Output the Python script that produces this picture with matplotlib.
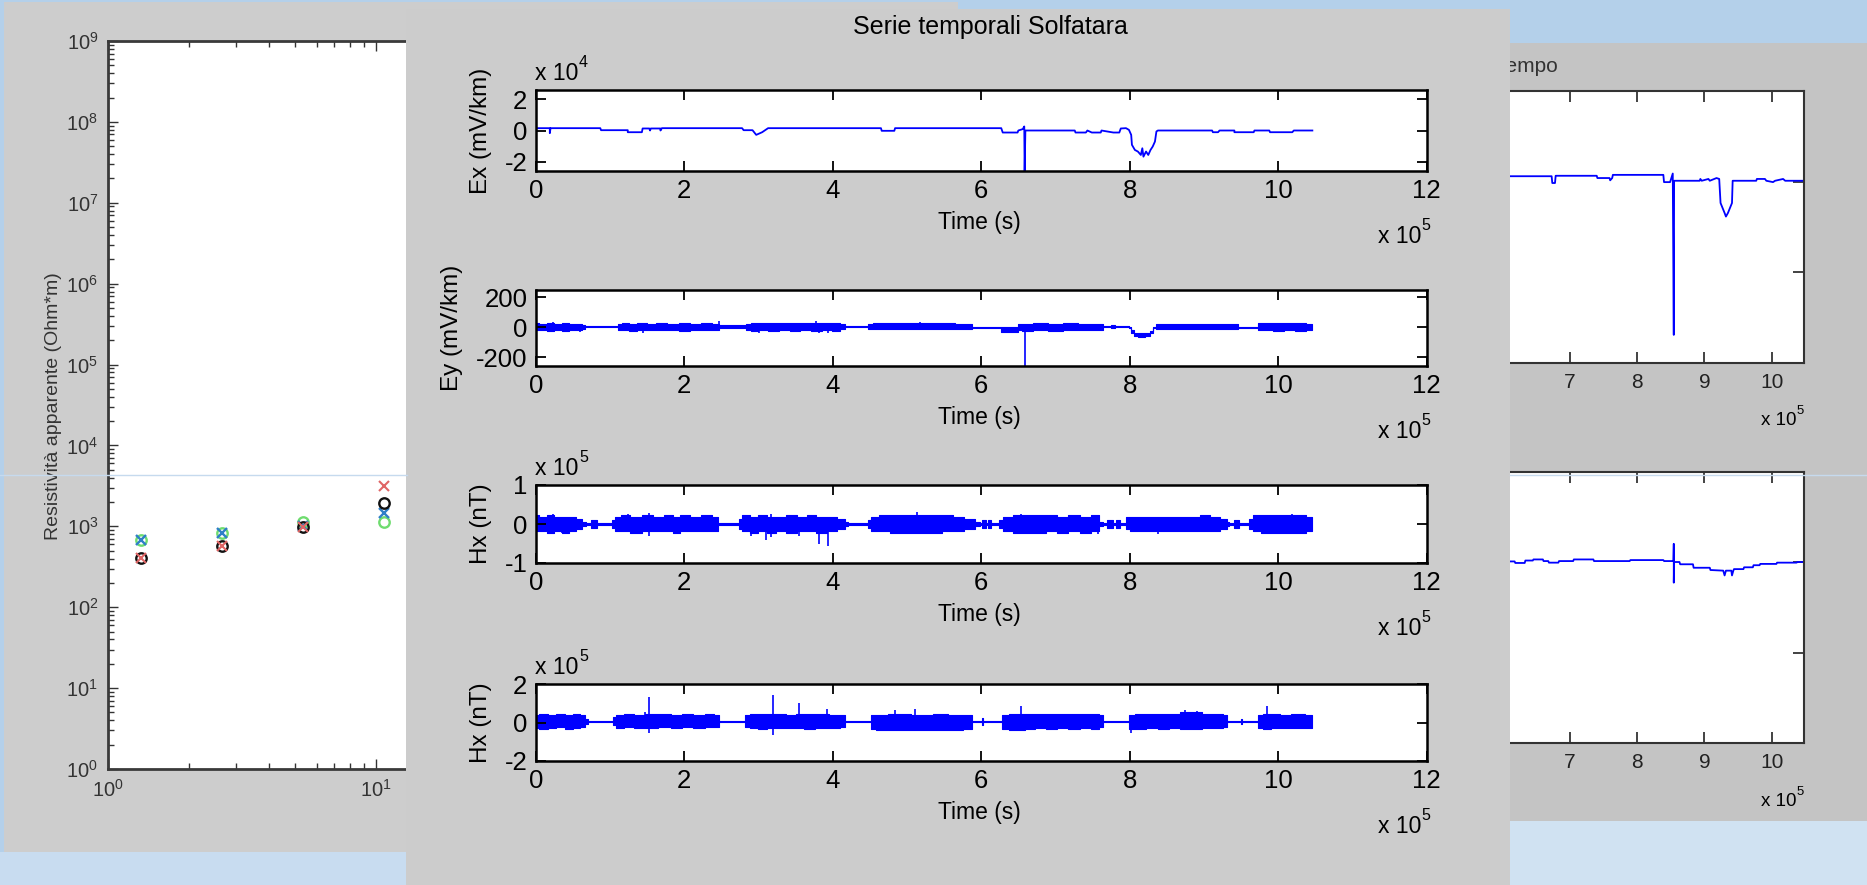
import matplotlib.pyplot as plt
from matplotlib.patches import Rectangle
from matplotlib.lines import Line2D

plt.rcParams['font.family'] = ['Liberation Sans', 'DejaVu Sans']
plt.rcParams['axes.unicode_minus'] = False

W, H = 1867, 885

# --- resistivita' apparente (Ohm*m) ai quattro periodi
periodi = [1.33, 2.67, 5.33, 10.67]
rho_xy_o = [406, 571, 980, 1940]     # cerchi neri
rho_xy_x = [406, 571, 980, 3150]     # croci rosse
rho_yx_o = [677, 826, 1130, 1130]    # cerchi verdi
rho_yx_x = [677, 826, 1000, 1460]    # croci blu

# --- serie temporali Solfatara (tempo in 1e5 s)
# Ex in 1e4 mV/km
ex_t = [0, 0.19, 0.19, 0.20, 0.87, 0.88, 1.24, 1.24, 1.43, 1.44, 1.53, 1.54, 1.55, 1.68, 1.68, 1.70,
        2.78, 2.80, 2.92, 2.97, 3.05, 3.13, 4.65, 4.66, 4.83, 4.84, 6.27, 6.29, 6.49, 6.50, 6.56,
        6.58, 6.585, 6.595, 7.26, 7.27, 7.41, 7.43, 7.49, 7.61, 7.62, 7.78, 7.86, 7.88, 7.95, 7.99,
        8.02, 8.03, 8.07, 8.11, 8.15, 8.17, 8.185, 8.22, 8.25, 8.28, 8.31, 8.34, 8.36, 8.38, 9.11,
        9.12, 9.19, 9.21, 9.41, 9.41, 9.67, 9.68, 9.88, 9.89, 10.19, 10.21, 10.46]
ex_v = [0.15, 0.15, -0.17, 0.15, 0.15, 0.02, 0.02, -0.11, -0.11, 0.13, 0.13, 0.0, 0.13, 0.13, 0.0, 0.15,
        0.15, 0.02, 0.02, -0.28, -0.11, 0.15, 0.15, -0.02, -0.02, 0.15, 0.15, -0.13, -0.13, 0.0, 0.09,
        0.26, -2.60, 0.0, 0.0, -0.13, -0.13, 0.0, -0.13, -0.13, 0.0, -0.13, -0.13, 0.13, 0.15, 0.04,
        -0.28, -0.92, -1.25, -1.35, -1.57, -1.14, -1.68, -1.35, -1.57, -1.25, -1.03, -0.71, -0.06, 0.0, 0.0,
        -0.11, -0.11, 0.0, 0.0, -0.11, -0.11, 0.0, 0.0, -0.11, -0.11, 0.0, 0.0]

# Ey in mV/km: (tempo, bordo superiore, bordo inferiore)
ey_band = [
    (0.00, 27, -20), (0.10, 24, -18), (0.20, 31, -24), (0.30, 24, -20), (0.40, 27, -22),
    (0.50, 24, -18), (0.60, 22, -20), (0.66, 16, -13), (0.67, 9, 4), (1.11, 9, 4),
    (1.12, 24, -20), (1.20, 27, -18), (1.30, 24, -24), (1.44, 27, -20), (1.55, 24, -18),
    (1.70, 27, -20), (1.85, 24, -18), (2.00, 27, -24), (2.15, 24, -18), (2.30, 27, -20),
    (2.46, 24, -18), (2.48, 16, -4), (2.60, 13, -7), (2.72, 16, -4), (2.83, 13, -7),
    (2.84, 24, -18), (2.95, 27, -24), (3.05, 27, -20), (3.20, 31, -24), (3.35, 27, -20),
    (3.50, 31, -24), (3.62, 27, -20), (3.80, 31, -24), (3.92, 27, -20), (4.05, 31, -24),
    (4.16, 24, -13), (4.18, 9, 4), (4.47, 9, 4), (4.48, 24, -13), (4.60, 27, -11),
    (4.80, 31, -13), (5.00, 31, -13), (5.18, 31, -11), (5.35, 31, -13), (5.55, 27, -11),
    (5.75, 24, -13), (5.86, 20, -11), (5.88, 4, -2), (6.26, 4, -2), (6.28, 4, -29),
    (6.48, 4, -29), (6.50, 24, -20), (6.60, 20, -24), (6.80, 27, -20), (7.00, 24, -24),
    (7.20, 27, -20), (7.40, 24, -20), (7.62, 20, -18), (7.65, 9, 4), (7.74, 9, 4),
    (7.75, 16, -7), (7.80, 16, -7), (7.81, 9, 4), (7.98, 9, 4), (8.00, 4, -7),
    (8.03, -20, -35), (8.08, -35, -55), (8.15, -38, -62), (8.25, -35, -58), (8.30, -24, -40),
    (8.34, 4, -7), (8.36, 24, -11), (8.50, 22, -13), (8.70, 24, -11), (8.90, 22, -13),
    (9.10, 24, -11), (9.30, 22, -13), (9.45, 20, -11), (9.47, 2, -7), (9.72, 2, -7),
    (9.73, 27, -18), (9.85, 31, -20), (10.00, 27, -24), (10.15, 31, -20), (10.30, 27, -24),
    (10.46, 24, -18)]
ey_spikes = [(0.23, 38), (0.39, -29), (0.60, -29), (1.44, -40), (2.47, 42), (3.01, -40),
             (3.78, 42), (3.82, -40), (3.94, -40), (5.17, 38), (6.585, -258)]

# Hx (prima stazione) in 1e5 nT
hx1_band = [
    (0.00, 0.22, -0.17), (0.10, 0.17, -0.19), (0.20, 0.22, -0.22), (0.30, 0.19, -0.17),
    (0.40, 0.19, -0.22), (0.50, 0.17, -0.17), (0.58, 0.13, -0.13), (0.66, 0.04, -0.04),
    (0.70, 0.02, -0.02), (0.80, 0.09, -0.09), (0.86, 0.02, -0.02), (1.02, 0.02, -0.02),
    (1.04, 0.09, -0.09), (1.10, 0.17, -0.17), (1.20, 0.22, -0.19), (1.35, 0.19, -0.22),
    (1.50, 0.22, -0.17), (1.65, 0.19, -0.17), (1.80, 0.22, -0.19), (1.90, 0.19, -0.22),
    (2.00, 0.22, -0.17), (2.15, 0.19, -0.19), (2.30, 0.22, -0.17), (2.45, 0.19, -0.17),
    (2.47, 0.02, -0.02), (2.73, 0.02, -0.02), (2.74, 0.13, -0.13), (2.82, 0.22, -0.19),
    (2.95, 0.19, -0.22), (3.05, 0.22, -0.19), (3.17, 0.19, -0.22), (3.30, 0.19, -0.19),
    (3.45, 0.22, -0.22), (3.60, 0.19, -0.19), (3.70, 0.22, -0.19), (3.85, 0.19, -0.22),
    (4.00, 0.17, -0.19), (4.12, 0.13, -0.13), (4.20, 0.04, -0.04), (4.22, 0.02, -0.02),
    (4.47, 0.02, -0.02), (4.48, 0.09, -0.09), (4.55, 0.17, -0.17), (4.70, 0.22, -0.19),
    (4.85, 0.22, -0.22), (5.00, 0.23, -0.22), (5.13, 0.24, -0.22), (5.25, 0.24, -0.24),
    (5.40, 0.22, -0.22), (5.55, 0.22, -0.19), (5.70, 0.19, -0.19), (5.85, 0.13, -0.13),
    (5.97, 0.04, -0.04), (5.99, 0.02, -0.02), (6.04, 0.09, -0.09), (6.08, 0.02, -0.02),
    (6.11, 0.09, -0.09), (6.15, 0.02, -0.02), (6.24, 0.02, -0.02), (6.25, 0.09, -0.09),
    (6.35, 0.19, -0.19), (6.50, 0.22, -0.24), (6.65, 0.22, -0.22), (6.80, 0.24, -0.22),
    (6.95, 0.22, -0.19), (7.10, 0.19, -0.22), (7.25, 0.22, -0.19), (7.40, 0.19, -0.22),
    (7.55, 0.22, -0.19), (7.63, 0.04, -0.04), (7.65, 0.02, -0.02), (7.75, 0.09, -0.09),
    (7.79, 0.02, -0.02), (7.85, 0.09, -0.09), (7.89, 0.02, -0.02), (7.94, 0.02, -0.02),
    (7.95, 0.17, -0.13), (8.05, 0.17, -0.17), (8.20, 0.19, -0.17), (8.35, 0.17, -0.19),
    (8.50, 0.17, -0.17), (8.70, 0.19, -0.17), (8.90, 0.17, -0.17), (9.00, 0.22, -0.19),
    (9.15, 0.17, -0.17), (9.28, 0.13, -0.13), (9.33, 0.04, -0.04), (9.35, 0.02, -0.02),
    (9.45, 0.09, -0.09), (9.49, 0.02, -0.02), (9.60, 0.02, -0.02), (9.61, 0.13, -0.13),
    (9.70, 0.22, -0.19), (9.85, 0.24, -0.22), (10.00, 0.22, -0.22), (10.15, 0.24, -0.22),
    (10.30, 0.22, -0.22), (10.46, 0.19, -0.19)]
hx1_spikes = [(0.23, 0.26), (0.35, -0.22), (1.24, 0.26), (1.53, 0.28), (1.53, -0.30),
              (2.90, -0.30), (3.10, -0.41), (3.17, 0.26), (3.17, -0.34), (3.54, -0.30),
              (3.82, -0.50), (3.94, -0.56), (5.14, 0.30), (6.53, 0.26), (7.57, -0.26),
              (8.38, -0.26), (10.19, 0.26)]

# Hx (seconda stazione) in 1e5 nT
hx2_band = [
    (0.00, 0.37, -0.28), (0.10, 0.42, -0.33), (0.22, 0.37, -0.28), (0.33, 0.42, -0.25),
    (0.45, 0.40, -0.33), (0.55, 0.42, -0.28), (0.63, 0.37, -0.25), (0.69, 0.20, -0.10),
    (0.71, 0.10, 0.04), (1.03, 0.10, 0.04), (1.04, 0.30, -0.15), (1.12, 0.40, -0.28),
    (1.25, 0.42, -0.25), (1.40, 0.37, -0.28), (1.55, 0.42, -0.28), (1.75, 0.46, -0.25),
    (1.90, 0.40, -0.28), (2.05, 0.42, -0.25), (2.20, 0.40, -0.28), (2.35, 0.46, -0.25),
    (2.46, 0.37, -0.25), (2.48, 0.10, 0.04), (2.81, 0.10, 0.04), (2.82, 0.37, -0.25),
    (2.95, 0.42, -0.28), (3.05, 0.46, -0.33), (3.18, 0.42, -0.30), (3.30, 0.42, -0.28),
    (3.45, 0.40, -0.30), (3.55, 0.42, -0.28), (3.68, 0.42, -0.33), (3.85, 0.46, -0.28),
    (4.05, 0.40, -0.28), (4.16, 0.37, -0.25), (4.18, 0.10, 0.04), (4.51, 0.10, 0.04),
    (4.52, 0.37, -0.33), (4.65, 0.40, -0.37), (4.84, 0.42, -0.37), (5.00, 0.42, -0.37),
    (5.11, 0.40, -0.37), (5.25, 0.40, -0.37), (5.45, 0.42, -0.37), (5.65, 0.40, -0.37),
    (5.86, 0.37, -0.33), (5.88, 0.10, 0.04), (6.00, 0.10, 0.04), (6.02, 0.25, -0.15),
    (6.04, 0.10, 0.04), (6.28, 0.10, 0.04), (6.29, 0.40, -0.33), (6.45, 0.46, -0.37),
    (6.54, 0.42, -0.37), (6.65, 0.42, -0.33), (6.80, 0.46, -0.30), (6.95, 0.42, -0.33),
    (7.10, 0.46, -0.30), (7.25, 0.42, -0.33), (7.40, 0.46, -0.30), (7.55, 0.42, -0.33),
    (7.63, 0.37, -0.25), (7.65, 0.10, 0.04), (7.98, 0.10, 0.04), (7.99, 0.37, -0.33),
    (8.15, 0.42, -0.33), (8.30, 0.46, -0.30), (8.45, 0.46, -0.33), (8.60, 0.46, -0.30),
    (8.75, 0.54, -0.33), (8.90, 0.54, -0.33), (9.05, 0.46, -0.30), (9.20, 0.42, -0.28),
    (9.30, 0.37, -0.25), (9.32, 0.10, 0.04), (9.49, 0.10, 0.04), (9.50, 0.20, -0.10),
    (9.52, 0.10, 0.04), (9.72, 0.10, 0.04), (9.73, 0.37, -0.28), (9.85, 0.42, -0.33),
    (9.95, 0.42, -0.30), (10.10, 0.40, -0.28), (10.25, 0.42, -0.30), (10.46, 0.40, -0.28)]
hx2_spikes = [(1.47, 0.54), (1.53, 1.33), (1.53, -0.54), (3.19, 1.42), (3.19, -0.63),
              (3.55, 1.02), (3.92, 0.72), (4.84, 0.63), (5.11, 0.72), (6.45, -0.42),
              (6.54, 0.84), (8.02, -0.56), (8.75, 0.63), (8.90, 0.60), (9.85, 0.84)]

# --- finestra "nel tempo" (seconda stazione), tempo in 1e5 s
r1_t = [6.0, 6.73, 6.74, 6.78, 6.79, 7.40, 7.41, 7.59, 7.60, 7.63, 7.64, 8.39, 8.40, 8.49, 8.53,
        8.545, 8.55, 8.93, 8.94, 8.96, 9.06, 9.08, 9.18, 9.22, 9.24, 9.27, 9.30, 9.32, 9.35, 9.38,
        9.41, 9.42, 9.77, 9.78, 9.90, 9.92, 10.02, 10.05, 10.17, 10.20, 10.48]
r1_v = [0.12, 0.12, -0.03, -0.03, 0.13, 0.13, 0.08, 0.08, 0.03, 0.08, 0.15, 0.15, -0.01, -0.01, 0.18,
        -3.38, 0.02, 0.02, 0.06, 0.02, 0.06, 0.02, 0.08, 0.06, -0.47, -0.58, -0.69, -0.77, -0.69, -0.58,
        -0.47, 0.02, 0.02, 0.06, 0.06, 0.02, -0.01, 0.02, 0.06, 0.02, 0.02]
r2_t = [6.0, 6.18, 6.19, 6.33, 6.34, 6.45, 6.46, 6.60, 6.61, 6.68, 6.69, 6.83, 6.84, 7.05, 7.06,
        7.35, 7.36, 7.89, 7.90, 8.39, 8.40, 8.54, 8.545, 8.545, 8.55, 8.63, 8.64, 8.83, 8.84, 9.08,
        9.09, 9.28, 9.30, 9.32, 9.40, 9.41, 9.43, 9.44, 9.58, 9.59, 9.72, 9.73, 9.82, 9.83, 10.07,
        10.08, 10.37, 10.38, 10.48]
r2_v = [2, 2, -1.4, -1.4, 4, 4, 6.4, 6.4, 2.8, 2.8, -0.7, -0.7, 2.8, 2.8, 6.4,
        6.4, 2.8, 2.8, 5, 5, 2.8, 2.8, 41, -45, 0.7, 0.7, -4.3, -4.3, -12, -12,
        -17, -18.4, -29, -18.4, -18.4, -29, -18.4, -15, -15, -11, -11, -6.4, -6.4, -3.5, -3.5,
        -0.7, -0.7, 0.7, 0.7]
r_ticks = list(range(0, 11))
r_ticklabels = ['', '', '', '', '', '', '', '7', '8', '9', '10']   # 0-6 restano sotto la finestra centrale

BLUE = '#0000ff'

fig = plt.figure(figsize=(W / 100, H / 100), dpi=100)
fig.patch.set_facecolor('#b4d0ea')


def fpos(x0, y0, x1, y1):
    return [x0 / W, 1 - y1 / H, (x1 - x0) / W, (y1 - y0) / H]


def rect(x0, y0, x1, y1, color, z):
    fig.add_artist(Rectangle((x0 / W, 1 - y1 / H), (x1 - x0) / W, (y1 - y0) / H,
                             transform=fig.transFigure, facecolor=color,
                             edgecolor='none', zorder=z))


def ftext(x, y, s, **kw):
    fig.text(x / W, 1 - y / H, s, **kw)


def sci(x, y, e, size, z):
    # "x 10^e" in stile MATLAB, x = bordo destro, y = linea di base
    ftext(x - size * 0.55, y, 'x 10', ha='right', va='baseline', fontsize=size, zorder=z)
    ftext(x, y - size * 0.8, str(e), ha='right', va='baseline', fontsize=size * 0.7, zorder=z)


# sfondi
rect(0, 852, 407, 885, '#c8dcf0', 0.05)
rect(1510, 821, 1867, 885, '#d0e2f2', 0.05)

# ---------------- finestra sinistra: resistivita' apparente
rect(4, 2, 958, 852, '#cdcdcd', 0.3)
axl = fig.add_axes(fpos(108, 41, 912, 769), zorder=0.5)
axl.set_xscale('log')
axl.set_yscale('log')
axl.set_xlim(1, 1000)
axl.set_ylim(1, 1e9)
axl.plot(periodi, rho_yx_o, 'o', mfc='none', mec='#6fdc6f', ms=7.5, mew=1.7)
axl.plot(periodi, rho_yx_x, 'x', color='#2f7fc8', ms=6.5, mew=1.7)
axl.plot(periodi, rho_xy_o, 'o', mfc='none', mec='#111111', ms=7.5, mew=1.7)
axl.plot(periodi, rho_xy_x, 'x', color='#e06666', ms=6.5, mew=1.5)
axl.tick_params(which='both', direction='in', top=True, right=True, colors='#333333',
                labelsize=14.5, width=1.0)
axl.tick_params(which='major', length=7, pad=7)
axl.tick_params(which='minor', length=4)
for s in axl.spines.values():
    s.set_linewidth(2.0)
    s.set_color('#3a3a3a')
ftext(53, 406, 'Resistività apparente (Ohm*m)', rotation=90, ha='center', va='center',
      fontsize=14, color='#333333', zorder=0.6)

# ---------------- finestra destra: serie nel tempo
rect(1510, 43, 1867, 821, '#c4c4c4', 2)
for (top, bot, t, v, ylim, yt, yb) in [(91, 363, r1_t, r1_v, (-4, 2), [-4, -2, 0, 2], 425),
                                       (472, 743, r2_t, r2_v, (-396, 181), [-400, -200, 0, 200], 806)]:
    ax = fig.add_axes(fpos(1098.7, top, 1804, bot), zorder=3)
    ax.plot(t, v, color=BLUE, lw=1.3)
    ax.set_xlim(0, 10.48)
    ax.set_ylim(*ylim)
    ax.set_xticks(r_ticks)
    ax.set_xticklabels(r_ticklabels)
    ax.set_yticks(yt)
    ax.set_yticklabels([])
    ax.tick_params(direction='in', top=True, right=True, length=8, width=1.2,
                   labelsize=15, pad=7, colors='#222222')
    for s in ax.spines.values():
        s.set_linewidth(1.5)
        s.set_color('#333333')
    sci(1804, yb, 5, 13.5, 3.5)
ftext(1558, 67, 'Campo elettrico nel tempo', ha='right', va='center', fontsize=15,
      color='#333333', zorder=3.5)

# ---------------- finestra centrale: serie temporali Solfatara
rect(406, 9, 1510, 886, '#cccccc', 5)
ftext(990, 27, 'Serie temporali Solfatara', ha='center', va='center', fontsize=18, zorder=6.5)

panels = [
    # top, bottom, ylim, yticks, ylabel, esponente y
    (90, 171, (-2.6, 2.6), [-2, 0, 2], 'Ex (mV/km)', 4),
    (290, 366, (-258, 249), [-200, 0, 200], 'Ey (mV/km)', None),
    (485, 563, (-1, 1), [-1, 0, 1], 'Hx (nT)', 5),
    (684, 761, (-2, 2), [-2, 0, 2], 'Hx (nT)', 5),
]
axes = []
for top, bot, ylim, yticks, ylab, ey in panels:
    ax = fig.add_axes(fpos(535.7, top, 1426.7, bot), zorder=6)
    ax.set_xlim(0, 12)
    ax.set_ylim(*ylim)
    ax.set_xticks(range(0, 13, 2))
    ax.set_yticks(yticks)
    ax.tick_params(direction='in', top=True, right=True, length=7, width=1.3,
                   labelsize=18.5, pad=6)
    for s in ax.spines.values():
        s.set_linewidth(1.8)
    ax.set_ylabel(ylab, fontsize=17.5, labelpad=9)
    ftext(979, bot + 52, 'Time (s)', ha='center', va='center', fontsize=16.5, zorder=6.5)
    sci(1430, bot + 72, 5, 16.5, 6.5)
    if ey is not None:
        ftext(535, top - 10, 'x 10', ha='left', va='baseline', fontsize=16.5, zorder=6.5)
        ftext(579, top - 23, str(ey), ha='left', va='baseline', fontsize=11.5, zorder=6.5)
    axes.append(ax)

ax_ex, ax_ey, ax_hx1, ax_hx2 = axes
ax_ex.plot(ex_t, ex_v, color=BLUE, lw=1.3)

for ax, band, spikes in [(ax_ey, ey_band, ey_spikes), (ax_hx1, hx1_band, hx1_spikes),
                         (ax_hx2, hx2_band, hx2_spikes)]:
    t, hi, lo = zip(*band)
    ax.fill_between(t, lo, hi, step='mid', color=BLUE, lw=0.8)
    st, sv = zip(*spikes)
    ax.vlines(st, 0, sv, color=BLUE, lw=1.2)

# riga chiara di giunzione
for x0, x1 in [(0, 407), (1510, 1867)]:
    fig.add_artist(Line2D([x0 / W, x1 / W], [1 - 475 / H] * 2, color='#c6daee',
                          lw=1.0, zorder=10, transform=fig.transFigure))

fig.savefig('out.png', dpi=100, facecolor=fig.get_facecolor())
